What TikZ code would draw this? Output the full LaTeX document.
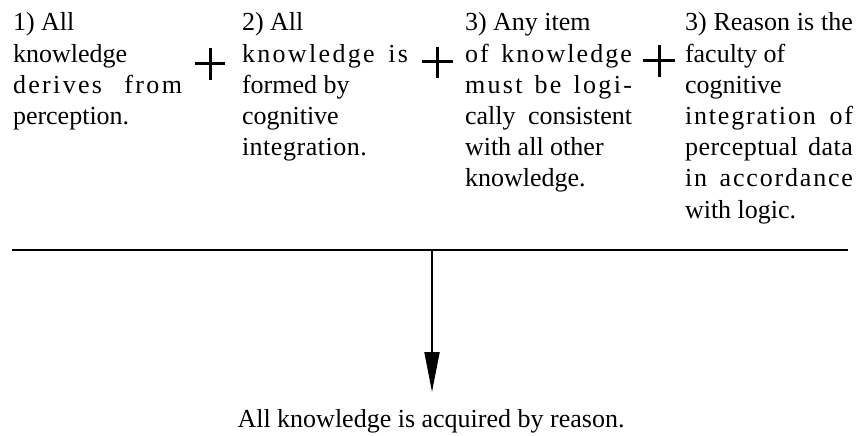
\documentclass[tikz,border=0pt]{standalone}
\usepackage{fontspec}
\setmainfont{Liberation Serif}
\usetikzlibrary{arrows.meta}
\newcommand{\fl}[3]{\makebox[#1][s]{\addfontfeature{LetterSpace=#2}#3}}
\tikzset{
  col/.style={anchor=base west, inner sep=0pt, outer sep=0pt, font=\fontsize{26}{31.2}\selectfont},
  plusmark/.style={line width=3pt},
  rule/.style={line width=2.4pt},
  arrowline/.style={line width=2pt, -{Triangle[length=40pt,width=15pt]}}
}
\begin{document}
\begin{tikzpicture}[x=1pt,y=-1pt]
\useasboundingbox (0,0) rectangle (857,436);
\node[col] (c1) at (13,31) {\parbox[t]{169pt}{\raggedright
1) All\\
knowledge\\
\fl{169pt}{9}{derives from}\\
perception.}};
\node[col] (c2) at (242,31) {\parbox[t]{166pt}{\raggedright
2) All\\
\fl{166pt}{9}{knowledge is}\\
formed by\\
cognitive\\
{\addfontfeature{LetterSpace=2}integration.}}};
\node[col] (c3) at (465,31) {\parbox[t]{167pt}{\raggedright
3) Any item\\
\fl{167pt}{8}{of knowledge}\\
\fl{167pt}{9}{must be logi-}\\
\fl{167pt}{0}{cally consistent}\\
with all other\\
knowledge.}};
\node[col] (c4) at (685,31) {\parbox[t]{168pt}{\raggedright
\fl{168pt}{0}{3) Reason is the}\\
faculty of\\
cognitive\\
\fl{168pt}{7}{integration of}\\
\fl{168pt}{2}{perceptual data}\\
\fl{168pt}{7}{in accordance}\\
with logic.}};
% plus signs
\draw[plusmark] (195,64) -- (225,64) (210,48) -- (210,80);
\draw[plusmark] (422,62) -- (453,62) (437,47) -- (437,78);
\draw[plusmark] (643,61) -- (675,61) (659,45) -- (659,77);
% rule and arrow
\coordinate (ruleL) at (12,250);
\coordinate (ruleR) at (848,250);
\coordinate (split) at (432,250);
\draw[rule] (ruleL) -- (ruleR);
\node[col, anchor=base] (concl) at (431,427) {All knowledge is acquired by reason.};
\coordinate (tip) at (432,392);
\draw[arrowline] (split) -- (tip);
\end{tikzpicture}
\end{document}
